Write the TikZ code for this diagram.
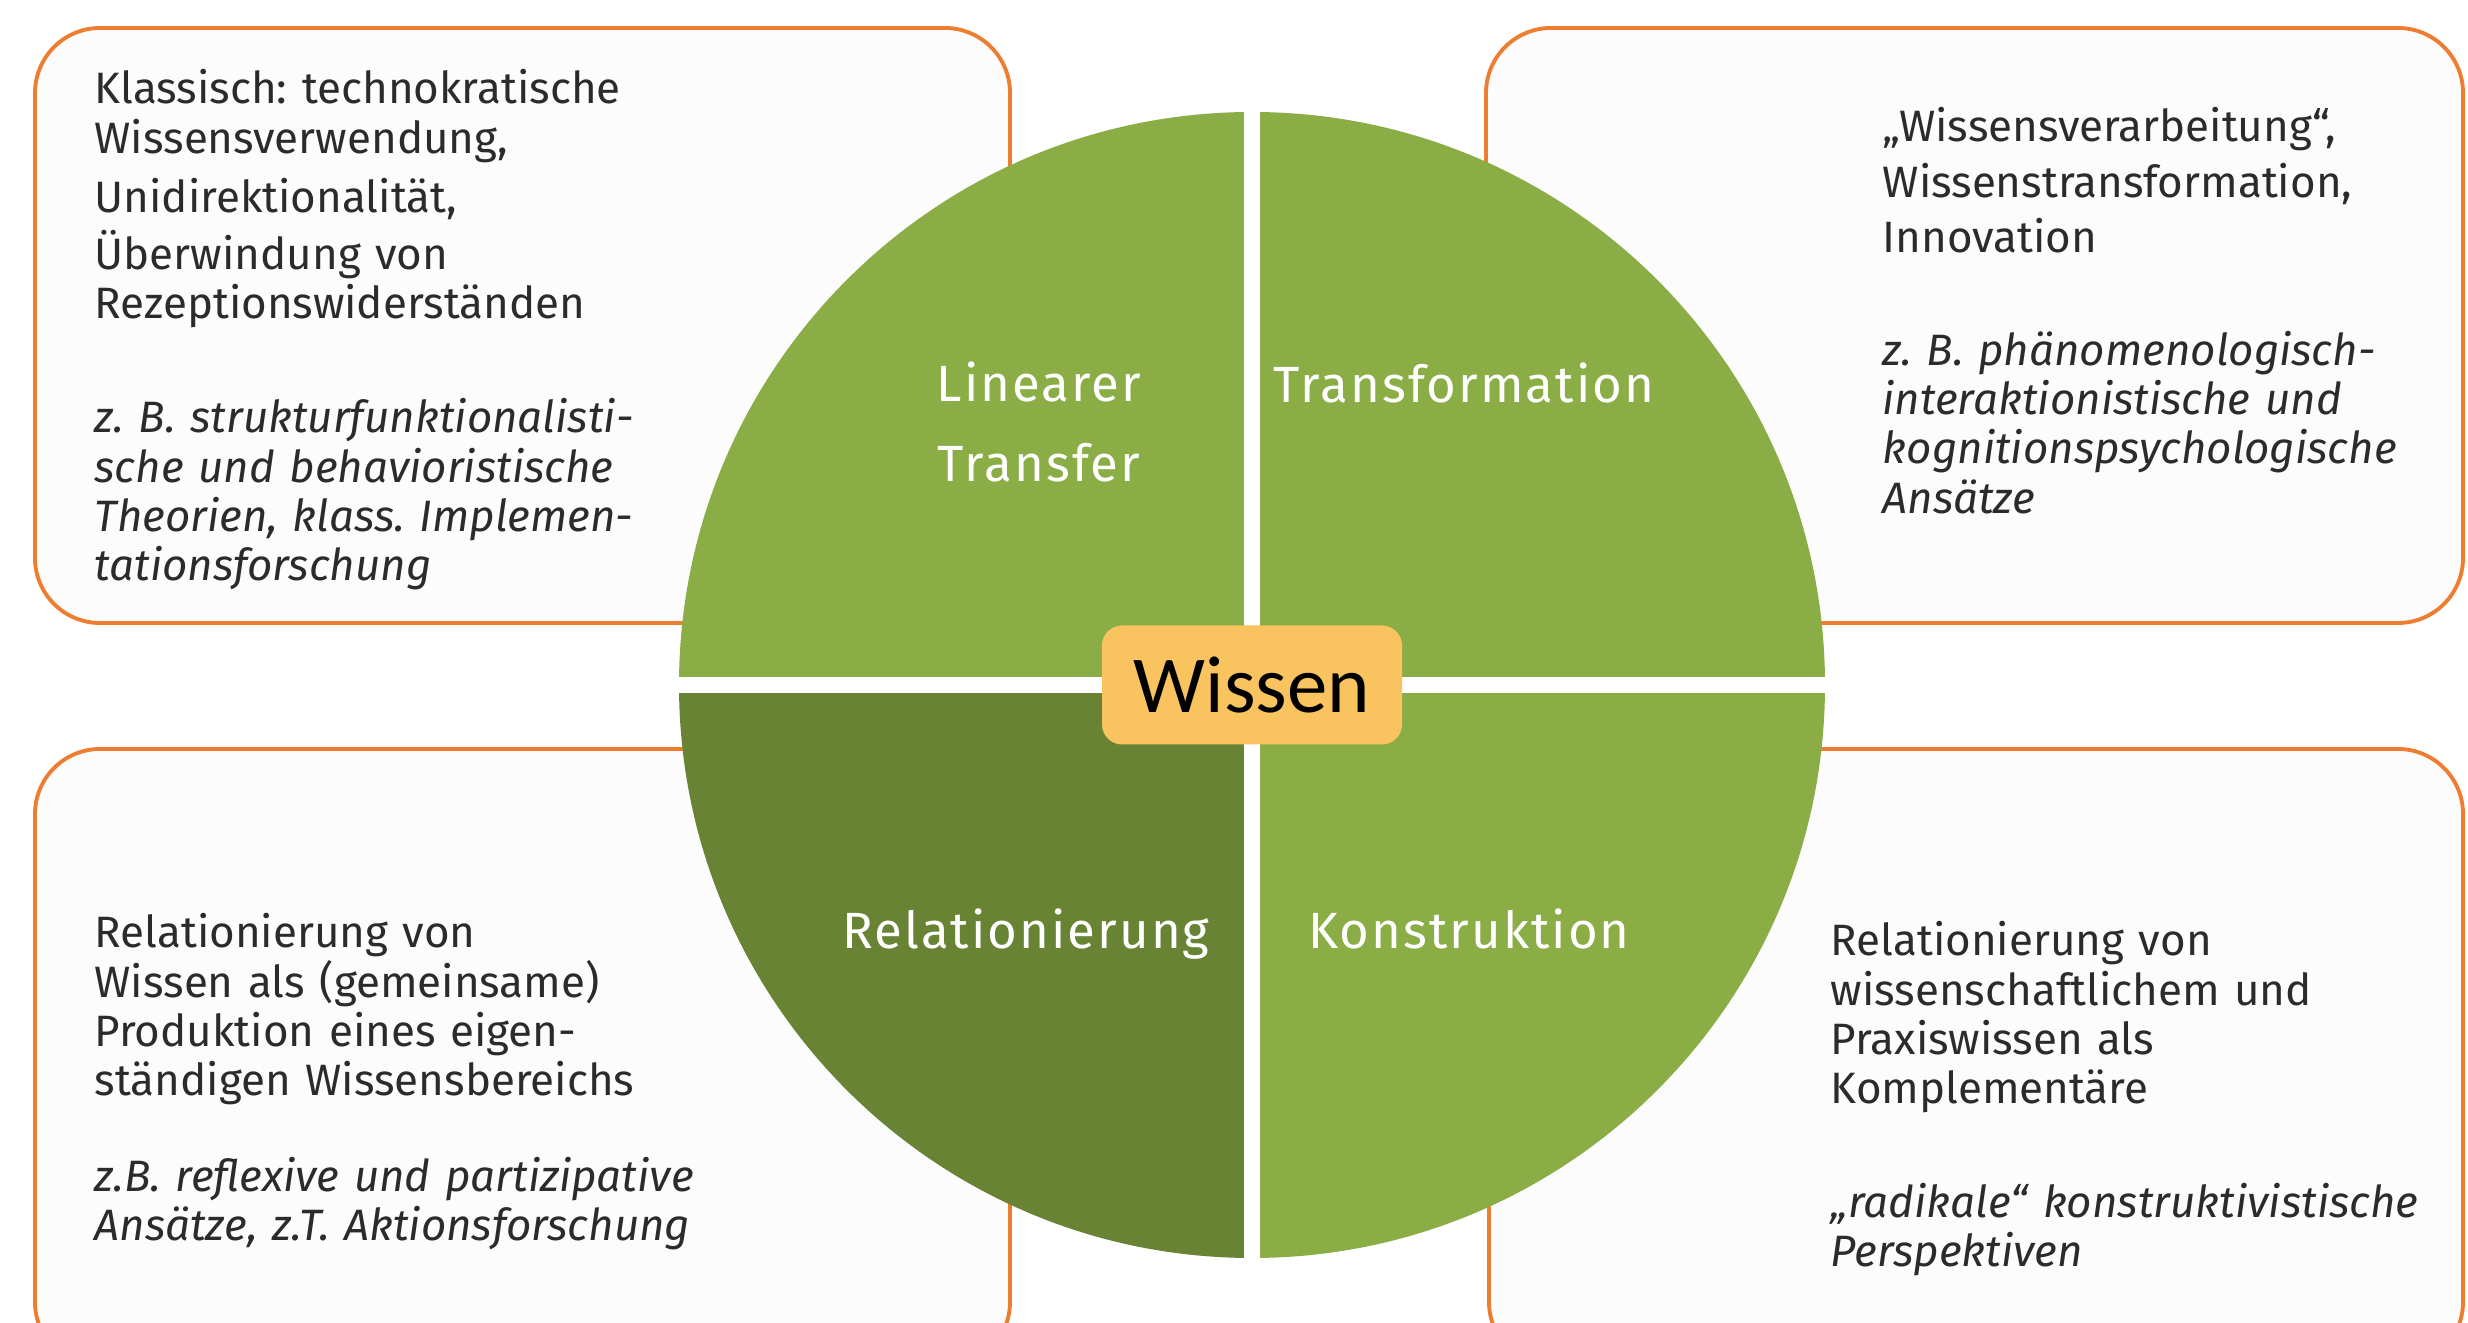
\documentclass[tikz,border=0pt]{standalone}
\usepackage{fontspec}
\setmainfont{Fira Sans}
\newfontfamily\wissenfont{Carlito}
\newfontfamily\quarterfont{Fira Sans}[LetterSpace=4]
\usepackage{xcolor}
\usepackage{tikz}
\usetikzlibrary{positioning}
\frenchspacing

\definecolor{leafgreen}{HTML}{8AAD46}
\definecolor{mossgreen}{HTML}{688334}
\definecolor{boxorange}{HTML}{ED7D31}
\definecolor{boxfill}{HTML}{FCFCFC}
\definecolor{coreyellow}{HTML}{F9C460}
\definecolor{inkgray}{HTML}{2B2B2B}

\begin{document}
\begin{tikzpicture}

\tikzset{
    infobox/.style={draw=boxorange, fill=boxfill, line width=1.1pt, rounded corners=0.65cm},
    infotext/.style={anchor=north west, inner sep=0pt, text width=9cm, align=left,
                     text=inkgray, font=\fontsize{12.5}{14}\selectfont},
    quarterlabel/.style={text=white, align=center, inner sep=0pt,
                         font=\quarterfont\fontsize{14.5}{23}\selectfont},
    corebox/.style={rectangle, rounded corners=0.2cm, fill=coreyellow, minimum width=3.0cm,
                    minimum height=1.19cm, font=\wissenfont\fontsize{23}{26}\selectfont}
}

\useasboundingbox (0,0) rectangle (24.68,13.22);

% ── Rahmen ──
\draw[infobox] (0.35,6.99)  rectangle (10.10,12.94);
\draw[infobox] (14.86,6.99) rectangle (24.63,12.94);
\draw[infobox] (0.35,-0.45) rectangle (10.10,5.73);
\draw[infobox] (14.89,-0.45) rectangle (24.63,5.73);

% ── Kreis ──
\coordinate (C) at (12.52,6.37);
\foreach \a/\col in {0/leafgreen, 90/leafgreen, 180/mossgreen, 270/leafgreen}
    \fill[\col] (C) -- ++(\a:5.73) arc[start angle=\a, delta angle=90, radius=5.73cm] -- cycle;
\draw[white, line width=0.16cm] ([yshift=5.8cm]C) -- ([yshift=-5.8cm]C);
\draw[white, line width=0.16cm] ([xshift=-5.8cm]C) -- ([xshift=5.8cm]C);

\node[corebox] (wissen) at (C) {Wissen};

\node[quarterlabel] (linear)  at (10.39,9.0) {Linearer\\Transfer};
\node[quarterlabel, anchor=base] (trans)   at (14.64,9.19) {Transformation};
\node[quarterlabel, anchor=base] (relat)   at (10.26,3.73) {Relationierung};
\node[quarterlabel, anchor=base] (konstr)  at (14.69,3.73) {Konstruktion};

% ── Texte ──
\node[infotext] (tltext) at (0.94,12.53) {Klassisch: technokratische\\
    Wissensverwendung,\\[0.1cm]
    Unidirektionalität,\\[0.08cm]
    Überwindung von\\
    Rezeptionswiderständen\\[0.65cm]
    {\itshape z. B. strukturfunktionalisti-\\
    sche und behavioristische\\
    Theorien, klass. Implemen-\\
    tationsforschung}};

\node[infotext] (trtext) at (18.82,12.15) {„Wissensverarbeitung“,\\[0.06cm]
    Wissenstransformation,\\[0.06cm]
    Innovation\\[0.64cm]
    {\itshape z. B. phänomenologisch-\\
    interaktionistische und\\
    kognitionspsychologische\\
    Ansätze}};

\node[infotext] (bltext) at (0.94,4.09) {Relationierung von\\
    Wissen als (gemeinsame)\\
    Produktion eines eigen-\\
    ständigen Wissensbereichs\\[0.47cm]
    {\itshape z.B. reflexive und partizipative\\
    Ansätze, z.T. Aktionsforschung}};

\node[infotext] (brtext) at (18.30,4.01) {Relationierung von\\
    wissenschaftlichem und\\
    Praxiswissen als\\
    Komplementäre\\[0.65cm]
    {\itshape „radikale“ konstruktivistische\\
    Perspektiven}};

\end{tikzpicture}
\end{document}
